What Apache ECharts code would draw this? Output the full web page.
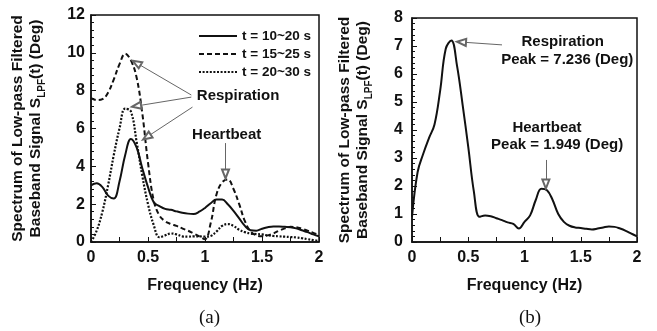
<!DOCTYPE html>
<html>
<head>
<meta charset="utf-8">
<script src="https://cdn.jsdelivr.net/npm/echarts@6/dist/echarts.min.js"></script>
<style>
  html, body { margin: 0; padding: 0; background: #fff; }
  #chart { width: 657px; height: 331px; }
</style>
</head>
<body>
<div id="chart"></div>
<script>
// frequency grid (Hz)
const freq = [0, 0.05, 0.1, 0.15, 0.2, 0.25, 0.3, 0.35, 0.4, 0.45, 0.5, 0.55, 0.6, 0.65, 0.7, 0.75, 0.8, 0.85, 0.9, 0.95,
  1.0, 1.05, 1.1, 1.15, 1.2, 1.25, 1.3, 1.35, 1.4, 1.45, 1.5, 1.55, 1.6, 1.65, 1.7, 1.75, 1.8, 1.85, 1.9, 1.95, 2.0];

// (a) three windows
const win10to20 = [3.0, 3.1, 2.9, 2.45, 2.3, 3.2, 4.6, 5.45, 5.0, 3.9, 2.9, 2.1, 1.9, 1.75, 1.7, 1.62, 1.55, 1.5, 1.48, 1.6,
  1.8, 2.05, 2.25, 2.25, 2.0, 1.65, 1.25, 0.85, 0.62, 0.6, 0.7, 0.78, 0.82, 0.82, 0.8, 0.78, 0.72, 0.62, 0.52, 0.4, 0.3];
const win15to25 = [7.6, 7.5, 7.55, 7.9, 8.6, 9.4, 9.95, 9.6, 8.7, 6.8, 4.2, 2.2, 1.4, 1.1, 0.95, 0.85, 0.72, 0.6, 0.45, 0.3,
  0.15, 1.0, 2.5, 3.15, 3.3, 2.8, 2.0, 1.1, 0.55, 0.35, 0.3, 0.35, 0.45, 0.6, 0.72, 0.8, 0.78, 0.7, 0.6, 0.48, 0.38];
const win20to30 = [0.0, 0.6, 1.6, 3.0, 4.6, 6.0, 7.05, 6.9, 5.3, 3.5, 2.0, 0.9, 0.25, 0.35, 0.45, 0.4, 0.3, 0.28, 0.3, 0.3,
  0.28, 0.32, 0.55, 0.85, 0.95, 0.85, 0.65, 0.52, 0.45, 0.42, 0.4, 0.35, 0.32, 0.3, 0.28, 0.26, 0.24, 0.2, 0.15, 0.1, 0.05];

// (b) single spectrum
const spectrumB = [0.9, 2.5, 3.15, 3.7, 4.2, 5.4, 6.9, 7.2, 6.3, 4.9, 3.4, 1.8, 0.9, 0.95, 0.92, 0.85, 0.78, 0.7, 0.65, 0.48,
  0.72, 0.95, 1.5, 1.9, 1.85, 1.5, 1.0, 0.72, 0.58, 0.52, 0.5, 0.47, 0.45, 0.48, 0.52, 0.55, 0.54, 0.48, 0.4, 0.3, 0.2];

const legendNames = ["t = 10~20 s", "t = 15~25 s", "t = 20~30 s"];
const xTicks = [0, 0.5, 1, 1.5, 2];

const font = "'Liberation Sans', Arial, sans-serif";
const ink = "#111";
const pairs = (ys) => freq.map((f, i) => [f, ys[i]]);

const yName = "{t|Spectrum of Low-pass Filtered}\n{t|Baseband Signal S}{s|LPF}{t|(t) (Deg)}";
const yNameRich = {
  t: { fontFamily: font, fontWeight: "bold", fontSize: 15.5, color: ink, lineHeight: 18 },
  s: { fontFamily: font, fontWeight: "bold", fontSize: 10, color: ink, lineHeight: 18, verticalAlign: "bottom", padding: [0, 0, -2, 0] }
};

function xAxisFor(gridIndex) {
  return {
    gridIndex, type: "value", min: 0, max: 2, interval: 0.5,
    name: "Frequency (Hz)", nameLocation: "middle", nameGap: 36,
    nameTextStyle: { fontFamily: font, fontWeight: "bold", fontSize: 16, color: ink },
    axisLine: { lineStyle: { color: ink, width: 1.5 } },
    axisTick: { inside: true, length: 5, lineStyle: { color: ink } },
    minorTick: { show: true, splitNumber: 2, length: 5, lineStyle: { color: ink } },
    axisLabel: { fontFamily: font, fontWeight: "bold", fontSize: 16, color: ink, margin: 8,
      formatter: (v) => (xTicks.includes(v) ? String(v) : "") },
    splitLine: { show: false }
  };
}

function yAxisFor(gridIndex, max, interval, minorSplit, gap, margin) {
  return {
    gridIndex, type: "value", min: 0, max, interval,
    name: yName, nameLocation: "middle", nameGap: gap, nameRotate: 90,
    nameTextStyle: { rich: yNameRich, align: "center" },
    axisLine: { lineStyle: { color: ink, width: 1.5 } },
    axisTick: { inside: true, length: 5, lineStyle: { color: ink } },
    minorTick: { show: true, splitNumber: minorSplit, length: 3, lineStyle: { color: ink } },
    axisLabel: { fontFamily: font, fontWeight: "bold", fontSize: 16, color: ink, margin },
    splitLine: { show: false }
  };
}

const arrow = { symbol: ["none", "emptyTriangle"], symbolSize: [7, 9], silent: true,
  lineStyle: { color: "#666", width: 1, type: "solid" }, label: { show: false } };

const noteLabel = (coord, text) => ({
  coord, value: text, symbol: "rect", symbolSize: 1, itemStyle: { color: "rgba(0,0,0,0)" },
  label: { show: true, position: "inside", formatter: text, fontFamily: font, fontWeight: "bold", fontSize: 15, color: ink }
});

const chart = echarts.init(document.getElementById("chart"));
chart.setOption({
  animation: false,
  backgroundColor: "#fff",
  grid: [
    { left: 91, top: 15, width: 228, height: 227, show: true, borderColor: ink, borderWidth: 1.5 },
    { left: 412, top: 18, width: 225, height: 224, show: true, borderColor: ink, borderWidth: 1.5 }
  ],
  legend: {
    data: legendNames, orient: "vertical", left: 193, top: 24, itemWidth: 38, itemHeight: 14, itemGap: 4,
    itemStyle: { opacity: 0 },
    textStyle: { fontFamily: font, fontWeight: "bold", fontSize: 13.5, color: ink }
  },
  xAxis: [xAxisFor(0), xAxisFor(1)],
  yAxis: [yAxisFor(0, 12, 2, 5, 46, 6), yAxisFor(1, 8, 1, 5, 40, 9)],
  series: [
    {
      name: legendNames[0], type: "line", xAxisIndex: 0, yAxisIndex: 0, data: pairs(win10to20),
      smooth: 0.4, symbol: "none", lineStyle: { color: ink, width: 2 }, itemStyle: { color: ink },
      markLine: Object.assign({}, arrow, { data: [
        [{ coord: [0.88, 7.77] }, { coord: [0.40, 9.46] }],
        [{ coord: [0.88, 7.66] }, { coord: [0.40, 7.19] }],
        [{ coord: [0.89, 7.13] }, { coord: [0.49, 5.55] }],
        [{ coord: [1.18, 5.23] }, { coord: [1.18, 3.6] }]
      ] }),
      markPoint: { silent: true, data: [noteLabel([1.29, 7.7], "Respiration"), noteLabel([1.19, 5.66], "Heartbeat")] }
    },
    {
      name: legendNames[1], type: "line", xAxisIndex: 0, yAxisIndex: 0, data: pairs(win15to25),
      smooth: 0.4, symbol: "none", lineStyle: { color: ink, width: 2, type: [5, 3] }, itemStyle: { color: ink }
    },
    {
      name: legendNames[2], type: "line", xAxisIndex: 0, yAxisIndex: 0, data: pairs(win20to30),
      smooth: 0.4, symbol: "none", lineStyle: { color: ink, width: 2.2, type: [2, 1.6] }, itemStyle: { color: ink }
    },
    {
      name: "spectrum", type: "line", xAxisIndex: 1, yAxisIndex: 1, data: pairs(spectrumB),
      smooth: 0.4, symbol: "none", lineStyle: { color: ink, width: 2 }, itemStyle: { color: ink },
      markLine: Object.assign({}, arrow, { data: [
        [{ coord: [0.80, 7.04] }, { coord: [0.44, 7.14] }],
        [{ coord: [1.19, 2.93] }, { coord: [1.19, 2.07] }]
      ] }),
      markPoint: { silent: true, data: [
        noteLabel([1.34, 7.14], "Respiration"), noteLabel([1.38, 6.5], "Peak = 7.236 (Deg)"),
        noteLabel([1.20, 4.07], "Heartbeat"), noteLabel([1.29, 3.46], "Peak = 1.949 (Deg)")
      ] }
    }
  ],
  graphic: [
    { type: "text", left: 199, top: 309, style: { text: "(a)", fontFamily: "'Liberation Serif', 'Times New Roman', serif", fontSize: 19, fill: ink } },
    { type: "text", left: 519, top: 309, style: { text: "(b)", fontFamily: "'Liberation Serif', 'Times New Roman', serif", fontSize: 19, fill: ink } }
  ]
});
</script>
</body>
</html>
